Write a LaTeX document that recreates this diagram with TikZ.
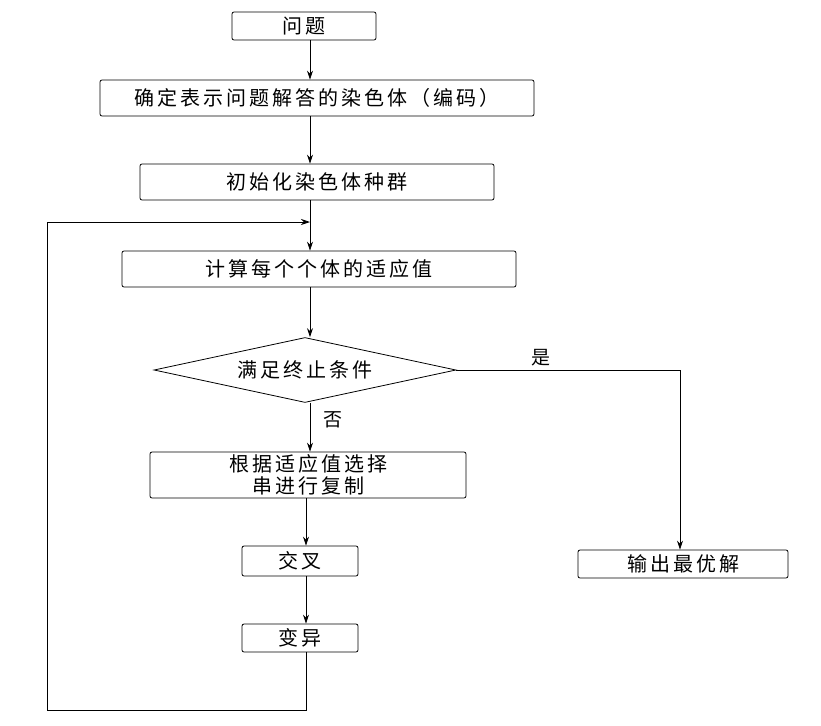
\documentclass[tikz,border=0pt]{standalone}
\usepackage{fontspec}
\setmainfont{Noto Sans CJK SC}[LetterSpace=15]
\usetikzlibrary{shapes.geometric,arrows.meta}
\begin{document}
\begin{tikzpicture}[x=1pt,y=-1pt,
 box/.style={draw,thick,rounded corners=2pt,inner sep=0pt,font=\fontsize{20}{24}\selectfont,align=center},
 arr/.style={thick,-{Stealth[length=9pt,width=6pt]}},
 lbl/.style={font=\fontsize{19}{22}\selectfont}]
\useasboundingbox (0,0) rectangle (821,725);
\coordinate (X) at (310,0);
\node[box,minimum width=144,minimum height=28] (a) at (304,26) {问题};
\node[box,minimum width=434,minimum height=36] (b) at (317,98) {确定表示问题解答的染色体（编码）};
\node[box,minimum width=354,minimum height=36] (c) at (317,182) {初始化染色体种群};
\node[box,minimum width=394,minimum height=36] (d) at (319,269) {计算每个个体的适应值};
\node[draw,thick,diamond,aspect=4.65,minimum width=302,minimum height=65,inner sep=0pt,font=\fontsize{20}{24}\selectfont] (e) at (305,370) {满足终止条件};
\node[box,minimum width=316,minimum height=46,font=\fontsize{20}{22}\selectfont] (f) at (308,475) {根据适应值选择\\串进行复制};
\node[box,minimum width=116,minimum height=30] (g) at (300,561) {交叉};
\node[box,minimum width=116,minimum height=28] (h) at (300,638) {变异};
\node[box,minimum width=210,minimum height=28] (i) at (683,564) {输出最优解};
\draw[arr] (a.south -| X) -- (b.north -| X);
\draw[arr] (b.south -| X) -- (c.north -| X);
\draw[arr] (c.south -| X) -- (d.north -| X);
\draw[arr] (d.south -| X) -- (e.north -| X);
\draw[arr] (e.south -| X) -- (f.north -| X) node[lbl,pos=0.35,right=10pt] {否};
\draw[arr] (f.south -| 306,0) -- (g.north -| 306,0);
\draw[arr] (g.south -| 306,0) -- (h.north -| 306,0);
\coordinate (lp) at (310,222);
\draw[arr] (h.south -| 306,0) -- (306,710) -- (47,710) -- (47,222) -- (lp);
\draw[arr] (e.east) -- (680,370) node[lbl,pos=0.38,above] {是} -- (i.north -| 680,0);
\end{tikzpicture}
\end{document}
